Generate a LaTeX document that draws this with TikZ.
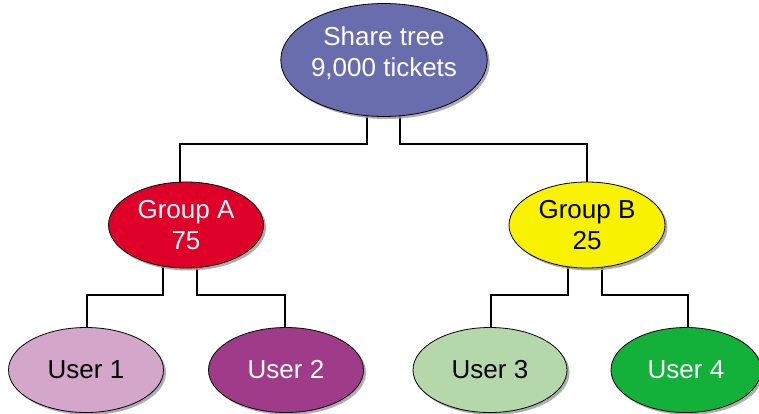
\documentclass[tikz,border=0pt]{standalone}
\usepackage{fontspec}
\setmainfont{Liberation Sans}
\usetikzlibrary{shapes.geometric,shadows,backgrounds}
\definecolor{rootc}{HTML}{6A6DAD}
\definecolor{grpa}{HTML}{DE0028}
\definecolor{grpb}{HTML}{F8F200}
\definecolor{usr1}{HTML}{D3A6CA}
\definecolor{usr2}{HTML}{A03B8A}
\definecolor{usr3}{HTML}{B5D8AB}
\definecolor{usr4}{HTML}{14B13A}
\tikzset{
  oval/.style={ellipse, draw=black, line width=0.8pt, inner sep=0pt,
    align=center, font=\fontsize{26}{31}\selectfont,
    drop shadow={shadow xshift=2.5pt, shadow yshift=-2.5pt, fill=black!40, opacity=0.8}},
  link/.style={draw=black, line width=1.9pt},
}
\begin{document}
\begin{tikzpicture}[x=1pt,y=-1pt]
\useasboundingbox (0,0) rectangle (759,414);
\node[oval, fill=rootc, text=white, minimum width=202pt, minimum height=113pt, text depth=17pt] (root) at (384,60) {Share tree\\9,000 tickets};
\node[oval, fill=grpa, text=white, minimum width=155pt, minimum height=86pt] (A) at (186,225) {Group A\\75};
\node[oval, fill=grpb, text=black, minimum width=156pt, minimum height=86pt] (B) at (587,225) {Group B\\25};
\node[oval, fill=usr1, text=black, minimum width=155pt, minimum height=85pt] (u1) at (86,370) {User 1};
\node[oval, fill=usr2, text=white, minimum width=155pt, minimum height=85pt] (u2) at (286,370) {User 2};
\node[oval, fill=usr3, text=black, minimum width=154pt, minimum height=85pt] (u3) at (490,370) {User 3};
\node[oval, fill=usr4, text=white, minimum width=150pt, minimum height=85pt] (u4) at (686,370) {User 4};
\coordinate (j1) at (0,144);
\coordinate (j2) at (0,295);
% attachment points inside the ovals (hidden behind their fill)
\coordinate (rl) at ([xshift=-17pt]root.center);
\coordinate (rr) at ([xshift=16pt]root.center);
\coordinate (at) at ([xshift=-6pt]A.center);
\coordinate (bt) at (B.center);
\coordinate (al) at ([xshift=-23pt]A.center);
\coordinate (ar) at ([xshift=11pt]A.center);
\coordinate (bl) at ([xshift=-19pt]B.center);
\coordinate (br) at ([xshift=15pt]B.center);
\coordinate (t1) at ([xshift=1pt]u1.center);
\coordinate (t2) at ([xshift=-1pt]u2.center);
\coordinate (t3) at ([xshift=1pt]u3.center);
\coordinate (t4) at ([xshift=2pt]u4.center);
\begin{scope}[on background layer]
\draw[link] (rl) |- (j1 -| at) -- (at);
\draw[link] (rr) |- (j1 -| bt) -- (bt);
\draw[link] (al) |- (j2 -| t1) -- (t1);
\draw[link] (ar) |- (j2 -| t2) -- (t2);
\draw[link] (bl) |- (j2 -| t3) -- (t3);
\draw[link] (br) |- (j2 -| t4) -- (t4);
\end{scope}
\end{tikzpicture}
\end{document}
